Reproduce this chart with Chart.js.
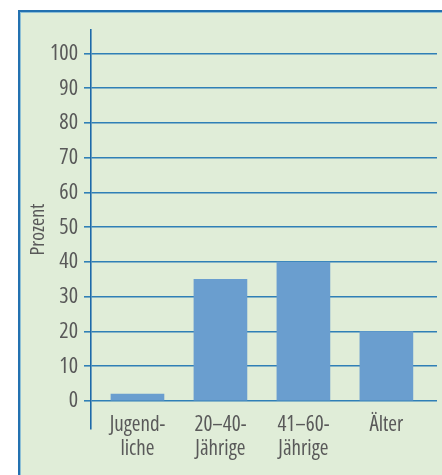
<!DOCTYPE html>
<html>
<head>
<meta charset="utf-8">
<script src="https://cdn.jsdelivr.net/npm/chart.js@4/dist/chart.umd.min.js"></script>
<style>
  html, body { margin: 0; padding: 0; width: 442px; height: 475px; overflow: hidden; background: #ffffff; }
  #panel {
    position: absolute; left: 18px; top: 10px; width: 500px; height: 500px;
    background: #e0edd8;
    border-top: 2px solid #2371b0; border-left: 2px solid #2371b0;
    box-shadow: inset 1px 1px 0 0 #8dbfd6;
  }
  #wrap { position: absolute; left: 0; top: 0; width: 442px; height: 475px; }
</style>
</head>
<body>
<div id="panel"></div>
<div id="wrap"><canvas id="chart" width="442" height="475"></canvas></div>
<script>
// Age groups and their share in percent
const categories = [["Jugend-", "liche"], ["20–40-", "Jährige"], ["41–60-", "Jährige"], "Älter"];
const values = [2, 35, 40, 20];
const yTicks = [0, 10, 20, 30, 40, 50, 60, 70, 80, 90, 100];

const FONT = "'Open Sans', Roboto, sans-serif";
const STRETCH = 'condensed';
const TEXT = '#595959';
const GRID = '#2f7fb6';

new Chart(document.getElementById('chart'), {
  type: 'bar',
  data: {
    datasets: [{
      data: values.map((v, i) => ({ x: i, y: v })),
      backgroundColor: '#6a9ecf',
      borderWidth: 0,
      barThickness: 53
    }]
  },
  options: {
    responsive: false,
    animation: false,
    events: [],
    layout: { padding: { top: 30, right: 5, bottom: 0, left: 0 } },
    plugins: { legend: { display: false }, tooltip: { enabled: false } },
    scales: {
      x: {
        type: 'linear',
        offset: false,
        min: -0.56,
        max: 3.61,
        grid: { display: false, drawTicks: false },
        border: { display: false },
        afterBuildTicks: s => { s.ticks = categories.map((_, i) => ({ value: i })); },
        afterFit: s => { s.height = 46; },
        ticks: {
          autoSkip: false,
          maxRotation: 0,
          mirror: true,
          padding: -8,
          color: TEXT,
          font: { family: FONT, weight: STRETCH, size: 21, lineHeight: 1.14 },
          callback: v => categories[v]
        }
      },
      y: {
        min: -8.06,
        max: 106.76,
        afterBuildTicks: s => { s.ticks = yTicks.map(v => ({ value: v })); },
        afterFit: s => { s.width = 91; },
        grid: { color: GRID, lineWidth: 1.6, tickLength: 7, tickColor: GRID, tickWidth: 1.6 },
        border: { display: true, color: '#1d69a9', width: 1.6 },
        ticks: {
          padding: 6,
          color: TEXT,
          font: { family: FONT, weight: STRETCH, size: 22 }
        },
        title: {
          display: true,
          text: 'Prozent',
          color: TEXT,
          font: { family: FONT, weight: STRETCH, size: 20 },
          padding: { top: 26, bottom: 0 }
        }
      }
    }
  }
});
</script>
</body>
</html>
